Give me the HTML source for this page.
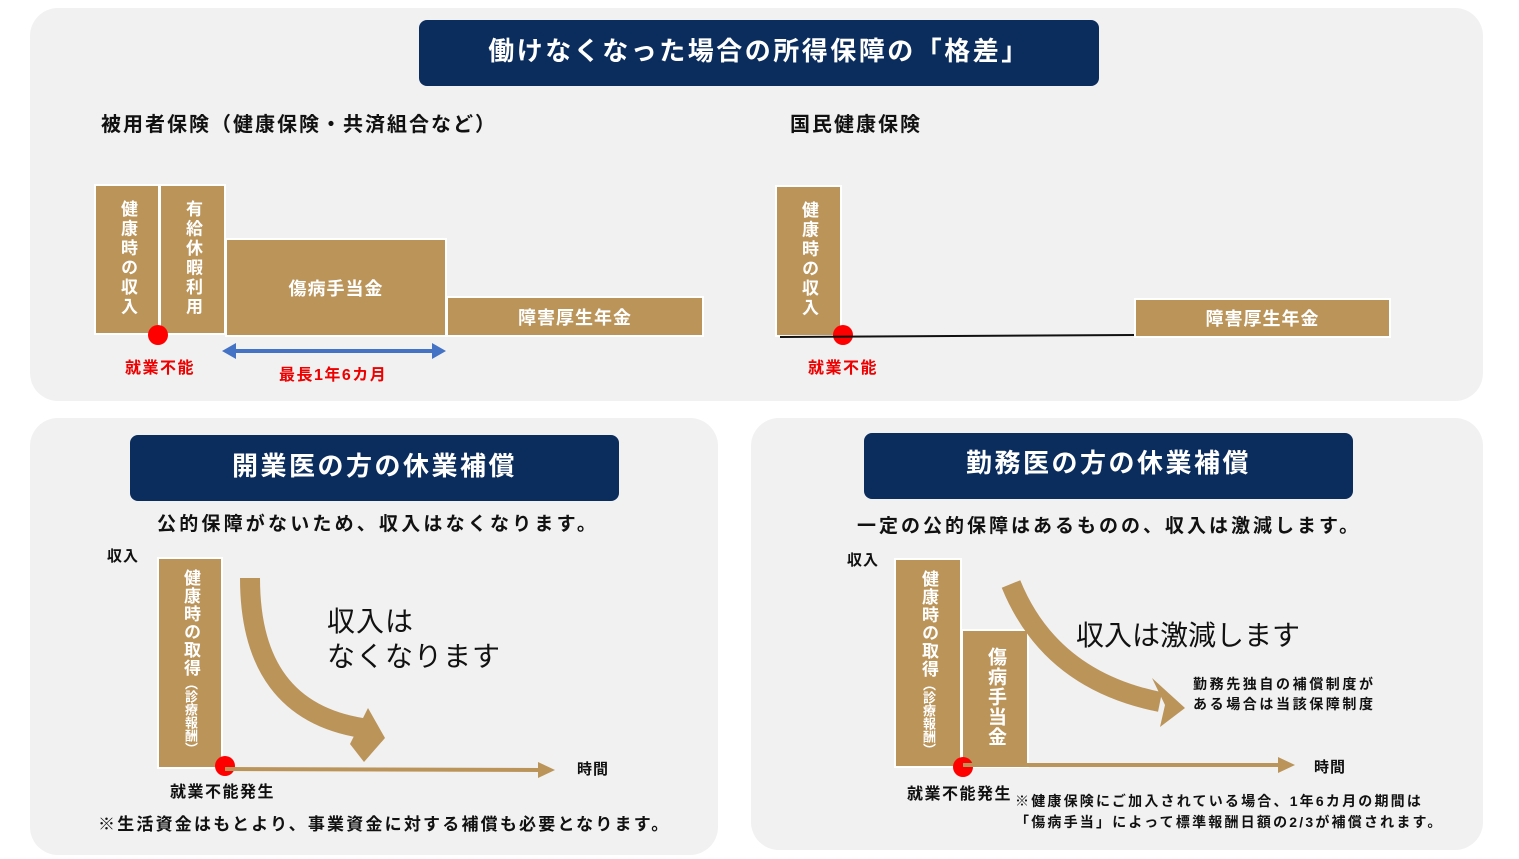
<!DOCTYPE html>
<html><head><meta charset="utf-8"><style>
body{margin:0;width:1519px;height:859px;background:#fff;position:relative;overflow:hidden;font-family:"Liberation Sans","Noto Sans CJK JP",sans-serif;}
.a{position:absolute;white-space:nowrap;}
.p{position:absolute;background:#f1f1f1;border-radius:28px;}
.t{position:absolute;background:#0b2d5e;color:#fff;border-radius:8px;font-weight:bold;font-size:26px;text-align:center;}
.g{position:absolute;background:#bb945a;border:2px solid #fff;color:#fff;font-weight:bold;box-sizing:border-box;}
.v{writing-mode:vertical-rl;font-size:17px;display:block;padding-top:14px;letter-spacing:2.5px;white-space:nowrap;overflow:hidden;}
.c{display:flex;align-items:center;justify-content:center;font-size:18px;letter-spacing:1px;}
.dot{position:absolute;width:20px;height:20px;border-radius:50%;background:#f00;}
.red{color:#e00;font-weight:bold;font-size:16px;letter-spacing:1.5px;}
.b{font-weight:bold;color:#111;}
</style></head><body>
<div class="p" style="left:30px;top:8px;width:1453px;height:393px"></div>
<div class="p" style="left:30px;top:418px;width:688px;height:437px"></div>
<div class="p" style="left:751px;top:418px;width:732px;height:432px"></div>

<div class="t" style="left:419px;top:20px;width:680px;height:66px;line-height:62px;letter-spacing:2.5px">働けなくなった場合の所得保障の「格差」</div>
<div class="a b" style="left:101px;top:108px;font-size:20px;letter-spacing:2px">被用者保険（健康保険・共済組合など）</div>
<div class="a b" style="left:790px;top:108px;font-size:20px;letter-spacing:2px">国民健康保険</div>

<div class="g v" style="left:94px;top:184px;width:66px;height:151px;line-height:62px">健康時の収入</div>
<div class="g v" style="left:159px;top:184px;width:67px;height:151px;line-height:63px">有給休暇利用</div>
<div class="g c" style="left:225px;top:238px;width:222px;height:99px">傷病手当金</div>
<div class="g c" style="left:446px;top:296px;width:258px;height:41px">障害厚生年金</div>
<div class="dot" style="left:148px;top:325px"></div>
<div class="a red" style="left:125px;top:354px">就業不能</div>
<div class="a red" style="left:279px;top:361px">最長1年6カ月</div>

<div class="g v" style="left:775px;top:185px;width:67px;height:152px;line-height:63px">健康時の収入</div>
<div class="g c" style="left:1134px;top:298px;width:257px;height:40px">障害厚生年金</div>
<div class="dot" style="left:833px;top:325px"></div>
<div class="a red" style="left:808px;top:354px">就業不能</div>

<div class="t" style="left:130px;top:435px;width:489px;height:66px;line-height:62px;letter-spacing:2.5px">開業医の方の休業補償</div>
<div class="a b" style="left:157px;top:509px;font-size:19px;letter-spacing:3.2px">公的保障がないため、収入はなくなります。</div>
<div class="a b" style="left:107px;top:545px;font-size:15px;letter-spacing:1px">収入</div>
<div class="g v" style="left:157px;top:557px;width:66px;height:212px;font-size:17px;letter-spacing:1px;line-height:62px;padding-top:10px">健康時の取得<span style="font-size:13px;letter-spacing:0">（診療報酬）</span></div>
<div class="a" style="left:327px;top:604px;font-size:28px;line-height:35px;color:#111;letter-spacing:1px">収入は<br>なくなります</div>
<div class="a b" style="left:577px;top:758px;font-size:15px;letter-spacing:1px">時間</div>
<div class="a b" style="left:170px;top:778px;font-size:16px;letter-spacing:1.5px">就業不能発生</div>
<div class="a b" style="left:98px;top:810px;font-size:17px;letter-spacing:2.2px">※生活資金はもとより、事業資金に対する補償も必要となります。</div>
<div class="dot" style="left:215px;top:756px"></div>

<div class="t" style="left:864px;top:433px;width:489px;height:66px;line-height:60px;letter-spacing:2.5px">勤務医の方の休業補償</div>
<div class="a b" style="left:857px;top:511px;font-size:19px;letter-spacing:3px">一定の公的保障はあるものの、収入は激減します。</div>
<div class="a b" style="left:847px;top:549px;font-size:15px;letter-spacing:1px">収入</div>
<div class="g v" style="left:894px;top:558px;width:68px;height:210px;font-size:17px;letter-spacing:1px;line-height:64px;padding-top:10px">健康時の取得<span style="font-size:13px;letter-spacing:0">（診療報酬）</span></div>
<div class="g v" style="left:961px;top:629px;width:68px;height:139px;font-size:19px;padding-top:16px;letter-spacing:1px;line-height:64px">傷病手当金</div>
<div class="a" style="left:1076px;top:614px;font-size:28px;color:#111">収入は激減します</div>
<div class="a b" style="left:1193px;top:674px;font-size:14px;line-height:20px;letter-spacing:2.6px">勤務先独自の補償制度が<br>ある場合は当該保障制度</div>
<div class="a b" style="left:1314px;top:756px;font-size:15px;letter-spacing:1px">時間</div>
<div class="a b" style="left:907px;top:780px;font-size:16px;letter-spacing:1.5px">就業不能発生</div>
<div class="a b" style="left:1015px;top:791px;font-size:14px;line-height:21px;letter-spacing:2.2px">※健康保険にご加入されている場合、1年6カ月の期間は<br>「傷病手当」によって標準報酬日額の2/3が補償されます。</div>
<div class="dot" style="left:953px;top:757px"></div>

<svg class="a" style="left:0;top:0" width="1519" height="859">
<line x1="232" y1="351" x2="436" y2="351" stroke="#4472c4" stroke-width="4"/>
<polygon points="222,351 236,343 236,359" fill="#4472c4"/>
<polygon points="446,351 432,343 432,359" fill="#4472c4"/>
<line x1="780" y1="337" x2="1134" y2="335" stroke="#111" stroke-width="2"/>
<line x1="225" y1="769" x2="540" y2="770" stroke="#bb945a" stroke-width="4"/>
<polygon points="555,770 538,762 538,778" fill="#bb945a"/>
<path d="M250,578 Q250,710 362,728" stroke="#bb945a" stroke-width="20" fill="none"/>
<polygon points="368,708 385,738 364,762 350,744" fill="#bb945a"/>
<line x1="963" y1="765" x2="1280" y2="765" stroke="#bb945a" stroke-width="4"/>
<polygon points="1295,765 1278,757 1278,773" fill="#bb945a"/>
<path d="M1011,584 Q1050,680 1160,702" stroke="#bb945a" stroke-width="20" fill="none"/>
<polygon points="1152,678 1185,708 1160,727 1165,705" fill="#bb945a"/>
</svg>
</body></html>
